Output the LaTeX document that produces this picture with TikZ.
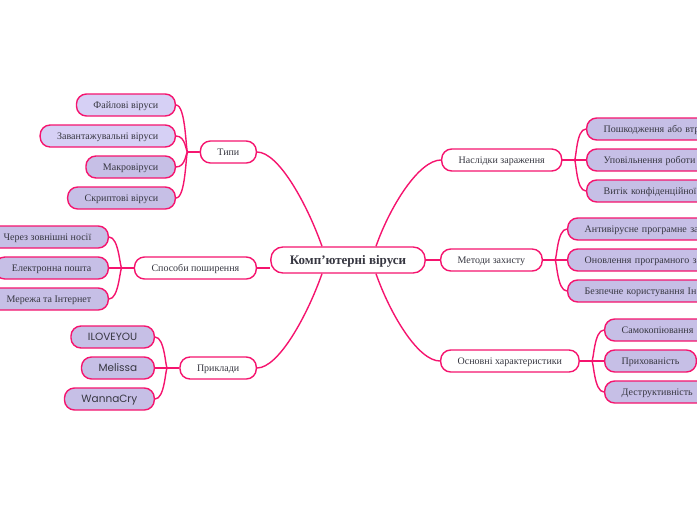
\documentclass[tikz,border=0pt]{standalone}
\usepackage{fontspec}
\setmainfont{Liberation Serif}
\newfontfamily\exfont{Poppins}
\usepackage{tikz}
\usetikzlibrary{calc}
\definecolor{mypink}{RGB}{245,20,110}
\definecolor{mytext}{RGB}{55,55,65}
\definecolor{leaflight}{RGB}{214,208,245}
\definecolor{leafdark}{RGB}{198,191,230}
\tikzset{
  root/.style={rectangle, draw=mypink, fill=white, rounded corners=12pt,
    line width=1.4pt, minimum height=26pt, inner xsep=19pt,
    text height=9pt, text depth=0pt,
    font=\fontsize{13}{14}\selectfont\bfseries, text=mytext},
  topic/.style={rectangle, draw=mypink, fill=white, rounded corners=10pt,
    line width=1.4pt, minimum height=22pt, inner xsep=17pt,
    text height=7.5pt, text depth=0pt,
    font=\fontsize{10}{11}\selectfont, text=mytext},
  leaf/.style={topic, fill=leafdark},
  leaflt/.style={topic, fill=leaflight},
  rleaf/.style={leaf, text width=150pt, align=left},
  exleaf/.style={leaf, font=\fontsize{10.5}{11}\selectfont\exfont},
  link/.style={draw=mypink, line width=1.4pt}
}
\begin{document}
\begin{tikzpicture}[x=1pt, y=-1pt]
  \useasboundingbox (0,0) rectangle (697,520);
  \clip (0,0) rectangle (697,520);

  % centre
  \node[root] (virus) at (348,260) {Комп'ютерні віруси};

  % left topics
  \node[topic, anchor=east] (types) at (257,152) {Типи};
  \node[topic, anchor=east] (spread) at (257,268) {Способи поширення};
  \node[topic, anchor=east] (samples) at (257,368) {Приклади};

  % right topics
  \node[topic, anchor=west] (effects) at (441,160) {Наслідки зараження};
  \node[topic, anchor=west] (protect) at (440,260) {Методи захисту};
  \node[topic, anchor=west] (traits) at (440,361) {Основні характеристики};

  % types
  \node[leaflt, anchor=east] (file) at (176,105) {Файлові віруси};
  \node[leaflt, anchor=east] (boot) at (176,136) {Завантажувальні віруси};
  \node[leaf, anchor=east] (macro) at (176,167) {Макровіруси};
  \node[leaf, anchor=east] (script) at (176,198) {Скриптові віруси};

  % spread
  \node[leaf, anchor=east] (media) at (109,237) {Через зовнішні носії};
  \node[leaf, anchor=east] (mail) at (109,268) {Електронна пошта};
  \node[leaf, anchor=east] (net) at (109,299) {Мережа та Інтернет};

  % samples
  \node[exleaf, anchor=east] (love) at (155,337) {ILOVEYOU};
  \node[exleaf, anchor=east] (melissa) at (155,368) {Melissa};
  \node[exleaf, anchor=east] (wanna) at (155,399) {WannaCry};

  % effects
  \node[rleaf, anchor=west] (loss) at (586,129) {Пошкодження або втр};
  \node[rleaf, anchor=west] (slow) at (586,160) {Уповільнення роботи};
  \node[rleaf, anchor=west] (leak) at (586,191) {Витік конфіденційної};

  % protect
  \node[rleaf, anchor=west] (antiv) at (567,229) {Антивірусне програмне за};
  \node[rleaf, anchor=west] (update) at (567,260) {Оновлення програмного за};
  \node[rleaf, anchor=west] (safe) at (567,291) {Безпечне користування Ін};

  % traits
  \node[leaf, anchor=west] (copy) at (604,330) {Самокопіювання};
  \node[leaf, anchor=west] (hide) at (604,361) {Прихованість};
  \node[leaf, anchor=west] (harm) at (604,392) {Деструктивність};

  % centre to topics
  \draw[link] (types.east) .. controls +(22,0) and +(-14,-40) .. ([xshift=-26pt]virus.north);
  \draw[link] (effects.west) .. controls +(-22,0) and +(14,-40) .. ([xshift=28pt]virus.north);
  \draw[link] (samples.east) .. controls +(22,0) and +(-14,40) .. ([xshift=-26pt]virus.south);
  \draw[link] (traits.west) .. controls +(-22,0) and +(14,40) .. ([xshift=28pt]virus.south);
  \draw[link] (spread.east) -- (spread.east -| virus.west);
  \draw[link] (protect.west) -- (protect.west -| virus.east);

  % topics to leaves
  \foreach \p/\l in {types/file, types/boot, types/macro, types/script,
      spread/media, spread/mail, spread/net,
      samples/love, samples/melissa, samples/wanna}
    \draw[link] (\l.east) .. controls +(10,0) and +(-2,0) .. ([xshift=-12pt]\p.west) -- (\p.west);
  \foreach \p/\l in {effects/loss, effects/slow, effects/leak,
      protect/antiv, protect/update, protect/safe,
      traits/copy, traits/hide, traits/harm}
    \draw[link] (\l.west) .. controls +(-10,0) and +(2,0) .. ([xshift=12pt]\p.east) -- (\p.east);
\end{tikzpicture}
\end{document}
